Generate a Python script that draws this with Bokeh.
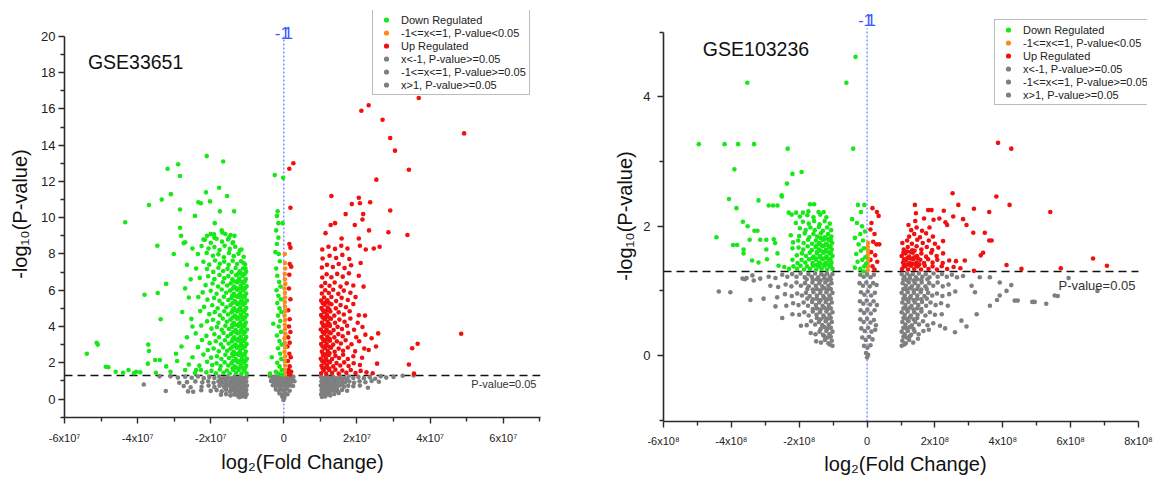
from bokeh.plotting import figure
from bokeh.models import Label, Legend, LegendItem, FixedTicker
from bokeh.layouts import row
from bokeh.embed import file_html
from bokeh.resources import INLINE

FONT = "Liberation Sans"
GREEN = "#17e817"
ORANGE = "#ff8a1e"
RED = "#f01010"
GRAY = "#7f7f7f"
BLUE = "#3a5cff"

LEGEND_LABELS = ["Down Regulated", "-1<=x<=1, P-value<0.05", "Up Regulated",
                 "x<-1, P-value>=0.05", "-1<=x<=1, P-value>=0.05", "x>1, P-value>=0.05"]

# ================= GSE33651 : (log2FC in units of 1e6, -log10 P) =================
A_X_UNIT = 1e6
a_down = [
    (-21.1,13.4),(-16.6,13.1),(-28.9,12.95),(-31.8,12.7),(-28.4,12.3),(-30.9,11.3),(-33.4,11.0),
    (-36.9,10.7),(-43.4,9.75),(-34.6,8.45),(-30.1,8.0),(-32.2,6.35),(-34.5,5.85),(-38.1,5.75),
    (-33.7,4.4),(-51.2,3.1),(-50.9,3.0),(-53.9,2.5),(-37.1,3.0),(-36.9,2.65),(-48.7,1.78),
    (-48.0,1.75),(-42.5,1.6),(-40.4,1.5),(-39.3,1.48),(-37.2,1.95),(-35.2,2.15),(-33.9,2.15),
    (-32.2,1.8),(-29.5,2.5),(-29.2,2.1),(-17.7,11.65),(-15.5,11.2),(-21.3,11.4),(-23.4,10.85),
    (-22.7,10.8),(-20.2,10.9),(-17.5,10.35),(-13.6,10.35),(-28.4,10.45),(-24.3,10.1),(-28.4,9.45),
    (-28.1,9.0),(-27.0,8.65),(-27.4,8.6),(-18.9,9.7),
    (-44.0,1.45),(-46.0,1.5),(-41.0,1.42),(-35.0,1.45),(-31.0,1.5),(-27.0,1.6),(-26.0,1.9),
    (-25.0,2.3),(-24.0,1.6),(-28.0,2.9),(-26.5,3.4),(-25.0,4.0),(-27.8,4.8),(-26.0,5.6),
    (-27.0,6.1),(-25.5,6.6),(-24.0,7.2),(-26.5,7.4),(-23.5,8.0),(-25.0,8.3),(-22.0,8.8),
    (-21.0,9.0),(-20.0,9.1),(-19.0,8.9),(-17.0,9.3),(-15.0,8.9),(-16.0,9.1),(-14.0,8.6),
    (-12.0,8.2),(-13.5,9.0),(-11.0,7.5),(-10.5,7.2),
    (-10.2,1.42),(-10.9,1.58),(-11.6,1.40),(-12.4,1.60),(-13.1,1.44),(-13.9,1.62),(-14.8,1.41),
    (-15.6,1.57),(-16.5,1.45),(-17.5,1.63),(-18.6,1.42),(-19.8,1.55),(-21.2,1.47),(-22.7,1.60),(-24.3,1.43),
    (-10.3,1.83),(-11.0,2.00),(-11.8,1.86),(-12.6,2.03),(-13.5,1.80),(-14.3,1.98),(-15.2,1.85),
    (-16.2,2.02),(-17.3,1.82),(-18.4,1.97),(-19.6,1.88),(-21.0,2.05),(-23.1,1.84),
    (-10.1,2.22),(-10.8,2.40),(-11.5,2.25),(-12.3,2.43),(-13.2,2.20),(-14.0,2.38),(-15.0,2.26),
    (-16.0,2.44),(-17.1,2.21),(-18.3,2.36),(-19.9,2.28),(-22.0,2.45),
    (-10.4,2.62),(-11.2,2.80),(-12.0,2.65),(-12.9,2.83),(-13.7,2.60),(-14.6,2.78),(-15.5,2.66),
    (-16.6,2.84),(-17.8,2.63),(-19.2,2.79),(-20.8,2.70),(-23.5,2.86),
    (-10.2,3.03),(-10.9,3.20),(-11.7,3.05),(-12.5,3.22),(-13.3,3.00),(-14.2,3.18),(-15.1,3.06),
    (-16.1,3.24),(-17.2,3.02),(-18.6,3.19),(-20.3,3.08),(-22.4,3.25),
    (-10.3,3.42),(-11.0,3.60),(-11.8,3.45),(-12.7,3.63),(-13.6,3.40),(-14.5,3.58),(-15.4,3.46),
    (-16.5,3.64),(-17.7,3.41),(-19.0,3.57),(-21.2,3.48),(-24.1,3.62),
    (-10.1,3.83),(-10.9,4.00),(-11.6,3.85),(-12.4,4.03),(-13.2,3.80),(-14.1,3.98),(-15.0,3.86),
    (-16.0,4.04),(-17.0,3.82),(-18.3,3.97),(-19.8,3.88),(-22.6,4.05),
    (-10.4,4.22),(-11.1,4.40),(-11.9,4.25),(-12.8,4.43),(-13.7,4.20),(-14.6,4.38),(-15.6,4.26),
    (-16.7,4.44),(-17.9,4.21),(-19.4,4.37),(-21.0,4.28),(-25.3,4.42),
    (-10.2,4.63),(-11.0,4.80),(-11.8,4.65),(-12.6,4.83),(-13.4,4.60),(-14.3,4.78),(-15.3,4.66),
    (-16.3,4.84),(-17.5,4.62),(-18.9,4.79),(-20.4,4.68),(-22.9,4.85),
    (-10.3,5.02),(-11.1,5.20),(-11.9,5.05),(-12.7,5.23),(-13.6,5.00),(-14.6,5.18),(-15.7,5.06),
    (-16.8,5.24),(-18.1,5.01),(-19.6,5.17),(-21.8,5.08),
    (-10.1,5.43),(-10.8,5.60),(-11.6,5.45),(-12.5,5.63),(-13.4,5.40),(-14.3,5.58),(-15.2,5.46),
    (-16.4,5.64),(-17.6,5.42),(-19.1,5.57),(-20.9,5.48),(-23.4,5.62),
    (-10.3,5.82),(-11.1,6.00),(-11.9,5.85),(-12.8,6.03),(-13.7,5.80),(-14.7,5.98),(-15.8,5.86),
    (-17.0,6.04),(-18.4,5.81),(-20.0,5.97),(-22.2,5.88),
    (-10.2,6.22),(-11.0,6.40),(-11.8,6.25),(-12.7,6.43),(-13.6,6.20),(-14.5,6.38),(-15.5,6.26),
    (-16.7,6.44),(-18.0,6.21),(-19.5,6.37),(-21.4,6.28),
    (-10.4,6.62),(-11.3,6.80),(-12.2,6.65),(-13.1,6.83),(-14.1,6.60),(-15.2,6.78),(-16.3,6.66),
    (-17.6,6.84),(-19.0,6.61),(-20.7,6.77),(-23.0,6.68),
    (-10.3,7.02),(-11.2,7.20),(-12.1,7.05),(-13.2,7.23),(-14.3,7.00),(-15.4,7.18),(-16.6,7.06),
    (-17.9,7.24),(-19.3,7.01),(-21.0,7.17),
    (-10.6,7.42),(-11.7,7.60),(-12.8,7.45),(-14.0,7.63),(-15.1,7.40),(-16.3,7.58),(-17.5,7.46),
    (-18.8,7.64),(-20.4,7.41),(-22.0,7.57),
    (-11.0,7.85),(-12.4,8.02),(-13.7,7.88),(-15.0,8.05),(-16.4,7.82),(-17.9,7.98),(-19.4,7.90),(-21.1,8.06),
    (-11.6,8.25),(-13.3,8.40),(-14.8,8.28),(-16.2,8.45),(-17.6,8.22),(-19.0,8.38),(-20.6,8.30),(-22.5,8.44),
    (-13.9,8.65),(-15.3,8.80),(-16.9,8.68),(-18.4,8.84),(-20.0,8.62),(-21.6,8.78),
    (-14.6,9.05),(-16.8,9.18),(-19.1,9.08),
    (-10.6,1.70),(-11.4,1.74),(-12.2,1.68),(-13.0,1.73),(-14.0,1.69),
    (-10.5,2.10),(-11.3,2.13),(-12.1,2.08),(-12.9,2.12),(-13.9,2.09),
    (-10.7,2.50),(-11.5,2.46),(-12.3,2.52),(-13.2,2.48),(-14.1,2.51),
    (-10.6,2.90),(-11.4,2.93),(-12.2,2.88),(-13.0,2.92),(-14.0,2.89),
    (-10.7,3.30),(-11.5,3.27),(-12.3,3.32),(-13.1,3.28),(-14.0,3.31),
    (-10.6,3.70),(-11.4,3.73),(-12.2,3.68),(-13.0,3.72),(-13.9,3.69),
    (-10.7,4.10),(-11.5,4.07),(-12.3,4.12),(-13.2,4.08),(-14.1,4.11),
    (-10.6,4.50),(-11.4,4.53),(-12.2,4.48),(-13.0,4.52),(-14.0,4.49),
    (-10.7,4.90),(-11.5,4.87),(-12.3,4.92),(-13.1,4.88),(-14.0,4.91),
    (-10.6,5.30),(-11.4,5.33),(-12.2,5.28),(-13.0,5.32),(-14.0,5.29),
    (-10.7,5.70),(-11.5,5.67),(-12.3,5.72),(-13.2,5.68),(-14.1,5.71),
    (-10.6,6.10),(-11.4,6.13),(-12.2,6.08),(-13.1,6.12),(-14.0,6.09),
    (-10.7,6.50),(-11.6,6.47),(-12.5,6.52),(-13.4,6.48),
    (-10.7,6.90),(-11.7,6.93),(-12.6,6.88),
    (-2.5,12.35),(-0.2,12.2),(-1.7,10.35),(-1.9,10.1),(-1.5,9.7),(-0.35,9.7),(-2.1,9.3),(-1.5,8.9),
    (-1.9,8.55),(-2.3,8.1),(-1.4,8.0),(-1.1,7.6),(-2.1,7.2),(-1.8,6.8),(-1.3,6.45),(-0.9,6.2),
    (-2.0,6.0),(-1.5,5.7),(-0.8,5.5),(-1.8,5.3),(-1.2,5.0),(-0.7,4.8),(-1.6,4.6),(-2.9,4.15),
    (-1.0,4.3),(-1.4,4.0),(-0.8,3.7),(-1.9,3.5),(-1.2,3.2),(-0.6,3.0),(-1.6,2.8),(-1.0,2.5),
    (-3.3,2.3),(-0.7,2.2),(-1.8,2.0),(-1.2,1.8),(-0.6,1.6),(-2.2,1.5),(-3.8,1.4),(-1.5,1.4),(-0.5,1.35),
]
a_mid_sig = [
    (0.3,1.35),(0.2,1.6),(0.4,1.85),(0.25,2.1),(0.35,2.35),(0.2,2.6),(0.4,2.85),(0.3,3.1),(0.2,3.35),
    (0.4,3.6),(0.3,3.85),(0.25,4.1),(0.35,4.35),(0.2,4.6),(0.4,4.85),(0.3,5.1),(0.25,5.35),(0.35,5.6),
    (0.3,5.85),(0.2,6.1),(0.4,6.35),(0.3,6.6),(0.25,6.9),(0.35,7.2),(0.3,7.5),(0.25,8.0),
]
a_up = [
    (36.9,16.6),(23.2,16.2),(21.2,15.9),(27.0,15.4),(49.3,14.65),(29.1,14.4),(30.4,13.7),(34.2,12.65),
    (25.3,12.1),(13.0,11.2),(20.5,11.1),(16.9,10.2),(18.6,10.75),(20.8,10.8),(23.6,10.85),(29.1,10.4),
    (21.7,10.2),(21.5,9.9),(14.0,9.7),(12.8,9.6),(19.4,9.6),(23.3,9.3),(28.6,9.2),(11.4,9.15),
    (33.8,9.05),(15.8,8.85),(20.5,8.85),(26.2,8.4),(24.6,8.3),(22.4,8.25),(20.8,8.45),(48.5,3.6),
    (36.6,3.05),(35.1,2.8),(34.2,1.9),(35.6,1.4),
    (2.6,13.0),(1.5,12.7),(1.8,10.55),(1.5,8.55),(1.8,8.35),(1.6,7.45),(2.0,7.3),(1.5,6.85),(1.4,6.1),
    (1.8,5.5),(1.2,4.9),(1.6,4.4),(1.4,4.0),(1.8,3.7),(1.2,3.4),(1.6,3.1),(1.0,2.9),(1.5,2.5),
    (1.9,2.3),(1.1,2.1),(1.6,1.8),(1.3,1.6),(2.0,1.5),(1.0,1.4),(1.7,1.35),
    (10.2,1.42),(10.9,1.58),(11.6,1.40),(12.4,1.60),(13.2,1.44),(14.1,1.62),(15.0,1.41),(16.0,1.57),
    (17.1,1.45),(18.3,1.60),(19.6,1.43),(21.0,1.55),(22.6,1.47),(24.3,1.42),
    (10.3,1.83),(11.0,2.00),(11.8,1.86),(12.6,2.03),(13.5,1.80),(14.4,1.98),(15.4,1.85),(16.5,2.02),
    (17.7,1.82),(19.1,1.97),(20.8,1.88),(25.5,1.95),
    (10.1,2.22),(10.8,2.40),(11.5,2.25),(12.3,2.43),(13.2,2.20),(14.1,2.38),(15.1,2.26),(16.2,2.44),
    (17.5,2.21),(19.0,2.36),(21.4,2.28),(23.2,2.70),
    (10.4,2.62),(11.2,2.80),(12.0,2.65),(12.9,2.83),(13.9,2.60),(15.0,2.78),(16.2,2.66),(17.5,2.84),
    (19.5,2.63),(22.0,2.79),(25.2,2.90),
    (10.2,3.03),(10.9,3.20),(11.7,3.05),(12.6,3.22),(13.5,3.00),(14.5,3.18),(15.6,3.06),(16.9,3.24),
    (18.5,3.02),(20.6,3.19),(24.0,3.35),
    (10.3,3.42),(11.0,3.60),(11.9,3.45),(12.8,3.63),(13.8,3.40),(14.9,3.58),(16.1,3.46),(17.6,3.64),
    (19.8,3.41),(22.3,3.55),(25.8,3.62),
    (10.1,3.83),(10.9,4.00),(11.7,3.85),(12.6,4.03),(13.6,3.80),(14.7,3.98),(15.9,3.86),(17.3,4.04),
    (19.2,3.82),(21.5,3.97),
    (10.4,4.22),(11.2,4.40),(12.0,4.25),(12.9,4.43),(14.0,4.20),(15.2,4.38),(16.6,4.26),(18.2,4.44),
    (20.2,4.21),(22.2,4.60),
    (10.2,4.63),(11.0,4.80),(11.8,4.65),(12.7,4.83),(13.8,4.60),(15.0,4.78),(16.4,4.66),(18.0,4.84),(20.5,4.62),
    (10.3,5.02),(11.1,5.20),(12.0,5.05),(13.0,5.23),(14.2,5.00),(15.5,5.18),(17.0,5.06),(19.0,5.24),
    (10.2,5.43),(11.0,5.60),(11.9,5.45),(13.0,5.63),(14.3,5.40),(15.8,5.58),(17.5,5.46),(19.6,5.62),
    (10.4,5.82),(11.3,6.00),(12.3,5.85),(13.5,6.03),(14.9,5.80),(16.4,5.98),(18.2,5.86),(21.8,6.2),
    (10.3,6.22),(11.3,6.40),(12.5,6.25),(13.9,6.43),(15.5,6.20),(17.2,6.38),(19.0,6.26),
    (10.5,6.70),(11.7,6.88),(13.0,6.72),(14.6,6.90),(16.1,6.75),(17.8,6.93),(20.5,6.80),
    (10.4,7.25),(11.8,7.40),(13.4,7.28),(15.0,7.45),(16.6,7.22),(18.4,7.38),(21.0,7.50),
    (10.6,7.75),(12.5,7.90),(14.3,7.78),(16.0,7.95),(17.9,7.72),
    (10.5,8.25),(12.2,8.40),(14.0,8.28),(15.7,8.45),(17.4,8.30),
    (10.6,1.70),(11.5,1.73),(12.4,1.68),(10.5,2.10),(11.4,2.12),(12.3,2.07),
    (10.7,2.50),(11.6,2.47),(12.5,2.52),(10.6,2.90),(11.5,2.93),(12.4,2.88),
    (10.7,3.30),(11.6,3.27),(12.5,3.32),(10.6,3.70),(11.5,3.73),(12.4,3.68),
    (10.7,4.10),(11.6,4.07),(12.5,4.12),(10.6,4.50),(11.5,4.53),(12.4,4.48),
    (10.7,4.90),(11.6,4.87),(12.5,4.92),(10.6,5.30),(11.5,5.33),(12.4,5.28),
]
a_gray_left = [
    (-10.2,1.22),(-11.0,1.15),(-11.8,1.24),(-12.6,1.16),(-13.5,1.23),(-14.4,1.14),(-15.4,1.22),
    (-16.5,1.15),(-17.7,1.24),(-19.0,1.16),(-20.4,1.22),(-21.9,1.15),(-23.5,1.24),(-25.2,1.17),
    (-27.0,1.23),(-29.0,1.18),(-31.0,1.25),(-34.0,1.25),
    (-10.3,0.98),(-11.1,0.90),(-11.9,0.99),(-12.8,0.91),(-13.7,0.98),(-14.6,0.90),(-15.6,0.99),
    (-16.7,0.91),(-17.9,0.97),(-19.2,0.90),(-20.7,0.98),(-22.3,0.92),(-24.2,0.97),(-26.5,0.93),(-28.6,0.90),
    (-10.1,0.74),(-10.9,0.66),(-11.7,0.75),(-12.5,0.67),(-13.4,0.74),(-14.3,0.66),(-15.3,0.75),
    (-16.4,0.67),(-17.6,0.73),(-19.0,0.66),(-20.6,0.74),(-22.5,0.68),(-25.5,0.65),
    (-10.3,0.50),(-11.1,0.42),(-11.9,0.51),(-12.8,0.43),(-13.7,0.50),(-14.7,0.42),(-15.8,0.51),
    (-17.0,0.43),(-18.4,0.49),(-20.0,0.45),(-22.6,0.48),
    (-10.2,0.26),(-11.0,0.18),(-11.8,0.27),(-12.7,0.19),(-13.6,0.25),(-14.6,0.20),(-15.8,0.27),(-17.2,0.24),
    (-10.5,0.12),(-11.5,0.14),(-12.2,0.10),
    (-10.6,1.08),(-11.5,1.05),(-12.4,1.10),(-13.4,1.06),(-14.5,1.09),(-15.9,1.05),(-17.3,1.08),
    (-10.6,0.84),(-11.5,0.81),(-12.4,0.86),(-13.4,0.82),(-14.5,0.85),(-15.9,0.81),(-17.3,0.84),
    (-10.6,0.60),(-11.5,0.57),(-12.4,0.62),(-13.4,0.58),(-14.5,0.61),(-15.9,0.59),
    (-10.6,0.36),(-11.5,0.33),(-12.4,0.38),(-13.4,0.35),
    (-38.3,0.80),(-32.3,0.44),(-27.4,0.72),(-26.2,0.42),(-24.8,0.40),
]
a_gray_mid = [
    (-3.8,1.25),(-3.0,1.20),(-2.2,1.22),(-1.4,1.18),(-0.6,1.24),(0.2,1.20),(1.0,1.23),(1.8,1.17),(2.6,1.22),
    (-3.5,1.00),(-2.7,0.95),(-1.9,1.02),(-1.1,0.96),(-0.3,1.01),(0.5,0.94),(1.3,1.00),(2.1,0.95),(2.9,0.98),
    (-3.0,0.76),(-2.2,0.70),(-1.4,0.78),(-0.6,0.72),(0.2,0.77),(1.0,0.70),(1.8,0.75),(2.5,0.72),
    (-2.2,0.52),(-1.4,0.46),(-0.7,0.53),(0.0,0.47),(0.8,0.52),(1.6,0.46),
    (-1.2,0.30),(-0.5,0.25),(0.3,0.31),(1.0,0.26),
    (-0.4,0.12),(0.1,0.05),(-0.1,-0.05),(0.2,0.18),
    (-2.6,1.10),(-1.0,1.09),(0.6,1.11),(2.2,1.08),(-1.8,0.87),(-0.2,0.88),(1.4,0.86),(-1.0,0.63),(0.6,0.62),
]
a_gray_right = [
    (10.2,1.22),(11.0,1.15),(11.8,1.24),(12.6,1.16),(13.5,1.23),(14.4,1.14),(15.4,1.22),(16.5,1.15),
    (17.7,1.24),(19.0,1.16),(20.4,1.22),(21.9,1.15),(23.5,1.20),(25.0,1.12),(26.5,1.25),(28.0,1.18),
    (30.0,1.22),(32.5,1.28),(35.5,1.30),
    (10.3,0.98),(11.1,0.90),(11.9,0.99),(12.8,0.91),(13.7,0.98),(14.6,0.90),(15.6,0.99),(16.7,0.91),
    (17.9,0.97),(19.2,0.90),(20.7,0.98),(22.3,0.92),(24.0,1.00),(26.0,0.95),
    (10.1,0.74),(10.9,0.66),(11.7,0.75),(12.5,0.67),(13.4,0.74),(14.3,0.66),(15.3,0.75),(16.4,0.67),
    (17.6,0.73),(19.0,0.70),(20.8,0.74),(23.0,0.62),
    (10.3,0.50),(11.1,0.42),(11.9,0.51),(12.8,0.43),(13.7,0.50),(14.7,0.44),(15.9,0.50),(17.3,0.46),
    (10.2,0.26),(11.0,0.18),(11.8,0.27),(12.7,0.20),(13.8,0.28),(15.0,0.33),
    (10.4,0.12),(11.3,0.14),
    (10.6,1.08),(11.5,1.05),(12.4,1.10),(13.4,1.06),(14.5,1.09),(15.9,1.05),(17.3,1.08),
    (10.6,0.84),(11.5,0.81),(12.4,0.86),(13.4,0.82),(14.5,0.85),(15.9,0.81),
    (10.6,0.60),(11.5,0.57),(12.4,0.62),(13.4,0.58),(14.5,0.61),
    (10.6,0.36),(11.5,0.33),(12.4,0.38),
]
A_X_TICKS = [-6e7, -4e7, -2e7, 0, 2e7, 4e7, 6e7]
A_X_TICK_LABELS = ["-6x10⁷", "-4x10⁷", "-2x10⁷", "0", "2x10⁷", "4x10⁷", "6x10⁷"]
A_X_MINOR = [-5e7, -3e7, -1e7, 1e7, 3e7, 5e7, 7e7]
A_Y_TICKS = [0, 2, 4, 6, 8, 10, 12, 14, 16, 18, 20]
A_Y_MINOR = [-1, 1, 3, 5, 7, 9, 11, 13, 15, 17, 19]

# ================= GSE103236 : (log2FC in units of 1e7, -log10 P) =================
B_X_UNIT = 1e7
b_down = [
    (-3.4,4.62),(-35.3,4.22),(-6.1,4.22),(-49.6,3.27),(-42.0,3.27),(-38.0,3.27),(-33.3,3.27),
    (-23.4,3.2),(-4.1,3.2),(-39.1,2.88),(-19.3,2.84),(-22.0,2.81),(-23.6,2.66),(-25.2,2.48),
    (-25.1,2.46),(-40.7,2.42),(-32.0,2.40),(-38.5,2.28),(-44.4,1.83),(-36.6,2.07),(-35.2,2.0),
    (-33.2,1.93),(-32.3,1.93),(-34.6,1.79),(-31.5,1.79),(-29.7,1.79),(-27.5,1.80),(-39.5,1.71),
    (-38.3,1.71),(-36.4,1.64),(-36.4,1.58),(-33.9,1.47),(-32.0,1.44),(-29.7,1.64),(-29.5,1.49),
    (-26.4,1.58),(-26.1,1.39),(-27.1,1.74),(-29.0,2.32),(-27.7,2.32),(-26.4,2.32),(-20.9,2.21),
    (-18.9,2.21),(-23.1,2.21),(-17.3,2.23),(-15.6,2.34),(-14.3,2.22),(-12.8,2.22),(-16.8,2.34),
    (-10.2,1.34),(-11.0,1.38),(-11.8,1.33),(-12.6,1.39),(-13.4,1.34),(-14.2,1.38),(-15.0,1.33),
    (-15.9,1.39),(-16.8,1.34),(-17.7,1.38),(-18.6,1.33),(-19.6,1.39),(-20.6,1.34),(-21.7,1.38),
    (-23.0,1.34),(-24.4,1.37),
    (-10.5,1.44),(-11.4,1.48),(-12.3,1.43),(-13.2,1.49),(-14.1,1.44),(-15.1,1.48),(-16.1,1.43),
    (-17.1,1.49),(-18.2,1.44),(-19.3,1.48),(-20.5,1.43),(-22.0,1.48),
    (-10.2,1.54),(-11.1,1.58),(-12.0,1.53),(-12.9,1.59),(-13.8,1.54),(-14.8,1.58),(-15.8,1.53),
    (-16.9,1.59),(-18.0,1.54),(-19.2,1.58),(-20.7,1.55),
    (-10.4,1.64),(-11.3,1.68),(-12.2,1.63),(-13.2,1.69),(-14.2,1.64),(-15.2,1.68),(-16.3,1.63),
    (-17.5,1.69),(-18.8,1.64),(-20.2,1.67),(-22.0,1.66),
    (-10.3,1.74),(-11.2,1.78),(-12.1,1.73),(-13.1,1.79),(-14.1,1.74),(-15.1,1.78),(-16.2,1.73),
    (-17.4,1.79),(-18.7,1.74),(-20.3,1.78),(-21.8,1.75),
    (-10.5,1.84),(-11.5,1.88),(-12.5,1.83),(-13.6,1.89),(-14.7,1.84),(-15.8,1.88),(-17.0,1.83),
    (-18.4,1.89),(-20.0,1.85),(-22.5,1.86),
    (-10.6,1.94),(-11.8,1.98),(-13.0,1.93),(-14.2,1.99),(-15.4,1.94),(-16.7,1.98),(-18.1,1.94),(-19.8,1.97),
    (-11.0,2.04),(-12.5,2.08),(-14.0,2.03),(-15.6,2.08),(-17.2,2.04),(-18.9,2.07),(-21.0,2.05),
    (-12.0,2.14),(-13.8,2.18),(-15.8,2.14),(-17.6,2.17),(-19.8,2.15),(-22.2,2.18),
    (-10.7,1.39),(-11.6,1.41),(-12.6,1.40),(-13.7,1.42),(-14.8,1.40),(-16.0,1.41),
    (-10.8,1.49),(-11.7,1.51),(-12.7,1.50),(-13.8,1.52),(-14.9,1.50),(-16.1,1.51),
    (-10.7,1.59),(-11.6,1.61),(-12.6,1.60),(-13.7,1.62),(-14.8,1.60),
    (-10.8,1.69),(-11.7,1.71),(-12.7,1.70),(-13.8,1.72),(-14.9,1.70),
    (-10.7,1.79),(-11.6,1.81),(-12.6,1.80),(-13.7,1.82),
    (-3.6,1.36),(-2.0,1.34),(-0.8,1.38),(-2.8,1.45),(-1.4,1.48),(-0.5,1.52),(-3.2,1.57),(-1.8,1.62),
    (-0.9,1.66),(-2.5,1.72),(-1.2,1.78),(-3.6,1.82),(-2.0,1.88),(-0.6,1.92),(-1.5,2.0),(-4.4,2.11),
    (-3.0,2.05),(-2.7,2.33),(-0.8,2.33),(-1.8,2.22),(-0.3,1.42),(-1.0,1.30),
]
b_mid_sig = [
    (0.2,1.32),(0.3,1.38),(0.2,1.44),(0.3,1.50),(0.2,1.56),(0.3,1.62),(0.2,1.68),(0.3,1.74),
]
b_up = [
    (38.6,3.29),(42.5,3.2),(25.2,2.51),(38.1,2.46),(42.0,2.33),(54.0,2.22),(31.5,2.27),(36.0,2.22),
    (14.1,2.33),(18.0,2.25),(19.0,2.25),(22.6,2.24),(26.9,2.33),(14.4,2.2),(25.4,2.15),(28.3,2.11),
    (29.3,2.02),(23.1,2.06),(23.6,2.02),(12.2,2.02),(31.3,1.9),(34.7,1.9),(36.0,1.78),(36.7,1.78),
    (34.2,1.59),(33.5,1.55),(41.1,1.4),(45.5,1.34),(57.1,1.35),(66.6,1.5),(70.7,1.39),(31.5,1.31),
    (1.6,2.28),(2.9,2.22),(3.4,2.16),(1.3,2.05),(1.0,1.95),(2.2,1.88),(1.8,1.76),(2.8,1.72),
    (3.6,1.72),(1.2,1.6),(2.4,1.55),(1.0,1.48),(3.0,1.45),(1.6,1.38),(2.2,1.33),
    (10.3,1.34),(11.2,1.38),(12.1,1.33),(13.0,1.39),(13.9,1.34),(14.9,1.38),(15.9,1.33),(17.0,1.39),
    (18.1,1.34),(19.3,1.38),(20.6,1.33),(22.0,1.38),(23.6,1.34),(25.5,1.37),(27.5,1.35),
    (10.6,1.44),(11.6,1.48),(12.6,1.43),(13.6,1.49),(14.6,1.44),(15.7,1.48),(16.8,1.43),(18.0,1.49),
    (19.3,1.44),(20.7,1.48),(22.3,1.43),(24.2,1.47),(26.2,1.46),(28.8,1.47),
    (10.2,1.54),(11.3,1.58),(12.4,1.53),(13.5,1.59),(14.7,1.54),(16.0,1.58),(17.4,1.53),(18.9,1.59),
    (20.5,1.54),(22.4,1.58),
    (10.8,1.64),(12.0,1.68),(13.3,1.63),(14.6,1.69),(16.0,1.64),(17.6,1.68),(19.2,1.63),(21.0,1.67),
    (10.4,1.74),(11.8,1.78),(13.2,1.73),(14.8,1.79),(16.4,1.74),(18.2,1.78),(20.0,1.73),(22.4,1.77),
    (12.4,1.84),(13.9,1.88),(15.6,1.83),(17.4,1.89),(19.4,1.84),
    (13.0,1.94),(14.6,1.98),(16.2,1.93),(18.4,1.98),
    (14.2,2.08),(16.8,2.12),(19.6,2.10),(21.3,2.12),
    (10.8,1.39),(11.7,1.41),(12.6,1.40),(13.5,1.42),(14.4,1.40),(15.4,1.41),
    (10.9,1.49),(11.9,1.51),(12.9,1.50),(13.9,1.52),(15.0,1.50),
    (10.7,1.59),(11.8,1.61),(12.9,1.60),(14.0,1.62),
]
b_gray_left = [
    (-10.2,1.26),(-11.0,1.22),(-11.8,1.27),(-12.6,1.23),(-13.5,1.26),(-14.4,1.21),(-15.3,1.27),
    (-16.3,1.22),(-17.3,1.26),(-18.4,1.21),(-19.6,1.27),(-20.8,1.22),(-22.1,1.26),(-23.5,1.22),
    (-25.0,1.25),(-27.0,1.20),(-29.0,1.22),(-31.5,1.19),(-33.8,1.24),(-36.0,1.18),
    (-10.5,1.12),(-11.4,1.08),(-12.3,1.13),(-13.2,1.07),(-14.1,1.12),(-15.1,1.08),(-16.1,1.13),
    (-17.2,1.07),(-18.3,1.12),(-19.5,1.08),(-20.8,1.13),(-22.3,1.07),(-24.0,1.10),(-26.2,1.06),(-28.5,1.08),
    (-10.2,0.97),(-11.1,0.93),(-12.0,0.98),(-12.9,0.92),(-13.8,0.97),(-14.8,0.93),(-15.8,0.98),
    (-16.9,0.92),(-18.0,0.97),(-19.2,0.93),(-20.6,0.96),(-22.2,0.92),(-24.2,0.95),(-26.5,0.90),(-30.5,0.88),
    (-10.4,0.82),(-11.3,0.78),(-12.2,0.83),(-13.1,0.77),(-14.1,0.82),(-15.1,0.78),(-16.2,0.83),
    (-17.4,0.77),(-18.7,0.82),(-20.2,0.78),(-21.8,0.81),(-23.8,0.77),(-27.0,0.76),
    (-10.2,0.67),(-11.1,0.63),(-12.0,0.68),(-12.9,0.62),(-13.9,0.67),(-14.9,0.63),(-16.0,0.68),
    (-17.2,0.62),(-18.5,0.67),(-20.0,0.63),(-22.0,0.64),(-25.0,0.58),
    (-10.4,0.52),(-11.3,0.48),(-12.2,0.53),(-13.2,0.47),(-14.2,0.52),(-15.3,0.48),(-16.5,0.53),
    (-17.8,0.47),(-19.5,0.46),
    (-10.2,0.37),(-11.1,0.33),(-12.0,0.38),(-13.0,0.32),(-14.0,0.37),(-15.2,0.33),(-16.6,0.35),
    (-10.4,0.23),(-11.4,0.19),(-12.4,0.24),(-13.6,0.20),(-15.0,0.22),(-10.2,0.15),(-11.0,0.17),
    (-10.7,1.18),(-11.6,1.17),(-12.6,1.19),(-13.7,1.16),(-14.8,1.18),(-16.0,1.17),(-17.8,1.18),
    (-10.7,1.03),(-11.6,1.02),(-12.6,1.04),(-13.7,1.01),(-14.8,1.03),(-16.0,1.02),(-17.6,1.03),
    (-10.7,0.88),(-11.6,0.87),(-12.6,0.89),(-13.7,0.86),(-14.8,0.88),(-16.0,0.87),(-17.6,0.88),
    (-10.7,0.73),(-11.6,0.72),(-12.6,0.74),(-13.7,0.71),(-14.8,0.73),(-16.0,0.72),
    (-10.7,0.58),(-11.6,0.57),(-12.6,0.59),(-13.7,0.56),(-14.8,0.58),
    (-10.7,0.43),(-11.6,0.42),(-12.6,0.44),(-13.7,0.41),
    (-10.7,0.29),(-11.6,0.28),(-12.6,0.30),
    (-43.7,0.99),(-40.3,0.98),(-34.4,0.86),(-36.7,1.19),(-35.5,1.20),(-33.4,1.16),
]
b_gray_mid = [
    (-2.0,1.25),(-1.0,1.22),(0.0,1.26),(1.0,1.21),(2.0,1.25),
    (-2.2,1.12),(-1.2,1.08),(-0.2,1.13),(0.8,1.07),(1.8,1.12),(2.8,1.09),
    (-1.8,0.98),(-0.8,0.94),(0.2,0.99),(1.2,0.93),(2.3,0.97),
    (-2.1,0.84),(-1.1,0.80),(-0.1,0.85),(0.9,0.79),(1.9,0.84),(2.9,0.78),
    (-1.9,0.70),(-0.9,0.66),(0.1,0.71),(1.1,0.65),(2.2,0.70),
    (-2.0,0.56),(-1.0,0.52),(0.0,0.57),(1.0,0.51),(2.0,0.55),(2.6,0.47),
    (-1.7,0.42),(-0.7,0.38),(0.3,0.43),(1.3,0.37),(2.4,0.40),
    (-1.4,0.28),(-0.4,0.24),(0.6,0.29),(1.6,0.25),
    (-0.9,0.15),(0.1,0.12),(1.0,0.16),(-0.3,0.04),(0.3,0.01),(0.0,-0.03),
]
b_gray_right = [
    (10.2,1.26),(11.0,1.22),(11.8,1.27),(12.6,1.23),(13.5,1.26),(14.4,1.21),(15.3,1.27),(16.3,1.22),
    (17.3,1.26),(18.4,1.21),(19.6,1.27),(20.8,1.22),(22.1,1.26),(23.5,1.22),(25.0,1.25),(26.5,1.21),
    (28.3,1.23),(33.2,1.21),(36.2,1.21),
    (10.5,1.12),(11.4,1.08),(12.3,1.13),(13.2,1.07),(14.1,1.12),(15.1,1.08),(16.1,1.13),(17.2,1.07),
    (18.3,1.12),(19.5,1.08),(20.8,1.13),(22.3,1.07),(24.0,1.10),(30.8,1.08),(39.1,1.13),(42.5,1.09),
    (10.2,0.97),(11.1,0.93),(12.0,0.98),(12.9,0.92),(13.8,0.97),(14.8,0.93),(15.8,0.98),(16.9,0.92),
    (18.0,0.97),(19.2,0.93),(20.6,0.96),(22.2,0.92),(24.2,0.95),(26.0,0.99),(31.8,0.98),(39.1,0.93),
    (41.1,1.00),(55.3,0.93),(56.2,0.92),(67.9,1.00),(59.4,1.20),
    (10.4,0.82),(11.3,0.78),(12.2,0.83),(13.1,0.77),(14.1,0.82),(15.1,0.78),(16.2,0.83),(17.4,0.77),
    (18.7,0.82),(20.2,0.78),(21.8,0.81),(23.8,0.77),(36.2,0.77),(38.3,0.86),(43.5,0.85),(48.7,0.83),
    (52.8,0.80),(49.4,0.83),(44.4,0.85),
    (10.2,0.67),(11.1,0.63),(12.0,0.68),(12.9,0.62),(13.9,0.67),(14.9,0.63),(16.0,0.68),(17.2,0.62),
    (18.5,0.67),(20.0,0.63),(22.0,0.64),(32.3,0.64),
    (10.4,0.52),(11.3,0.48),(12.2,0.53),(13.2,0.47),(14.2,0.52),(15.3,0.48),(16.5,0.53),(17.8,0.47),
    (19.5,0.50),(21.5,0.46),(27.8,0.54),(29.3,0.45),
    (10.2,0.37),(11.1,0.33),(12.0,0.38),(13.0,0.32),(14.0,0.37),(15.2,0.33),(16.6,0.38),(18.2,0.40),
    (25.9,0.36),(23.0,0.42),
    (10.4,0.23),(11.4,0.19),(12.4,0.24),(13.6,0.20),(15.0,0.26),(10.2,0.15),(11.0,0.17),
    (10.7,1.18),(11.6,1.17),(12.6,1.19),(13.7,1.16),(14.8,1.18),(16.0,1.17),(17.8,1.18),
    (10.7,1.03),(11.6,1.02),(12.6,1.04),(13.7,1.01),(14.8,1.03),(16.0,1.02),(17.6,1.03),
    (10.7,0.88),(11.6,0.87),(12.6,0.89),(13.7,0.86),(14.8,0.88),(16.0,0.87),(17.6,0.88),
    (10.7,0.73),(11.6,0.72),(12.6,0.74),(13.7,0.71),(14.8,0.73),(16.0,0.72),
    (10.7,0.58),(11.6,0.57),(12.6,0.59),(13.7,0.56),(14.8,0.58),
    (10.7,0.43),(11.6,0.42),(12.6,0.44),(13.7,0.41),
    (10.7,0.29),(11.6,0.28),(12.6,0.30),
]
B_X_TICKS = [-6e8, -4e8, -2e8, 0, 2e8, 4e8, 6e8, 8e8]
B_X_TICK_LABELS = ["-6x10⁸", "-4x10⁸", "-2x10⁸", "0", "2x10⁸", "4x10⁸", "6x10⁸", "8x10⁸"]
B_X_MINOR = [-5e8, -3e8, -1e8, 1e8, 3e8, 5e8, 7e8]
B_Y_TICKS = [0, 2, 4]
B_Y_MINOR = [-1, 1, 3, 5]

P_THRESHOLD = 0.05
P_LINE = 1.30103  # -log10(0.05)


def panel(cfg):
    (xb0, xb1), (yb0, yb1) = cfg["x_bounds"], cfg["y_bounds"]
    p = figure(width=cfg["width"], height=cfg["height"],
               x_range=(xb0, cfg["x_end"]), y_range=(yb0, cfg["y_end"]),
               output_backend="svg", toolbar_location=None,
               min_border_left=cfg["borders"][0], min_border_right=cfg["borders"][1],
               min_border_top=cfg["borders"][2], min_border_bottom=cfg["borders"][3])
    p.outline_line_color = None
    p.xgrid.grid_line_color = None
    p.ygrid.grid_line_color = None
    p.background_fill_color = "white"

    for ax in (p.xaxis[0], p.yaxis[0]):
        ax.axis_line_color = "#2a2a2a"
        ax.axis_line_width = 1.6
        ax.major_tick_line_color = "#2a2a2a"
        ax.minor_tick_line_color = "#2a2a2a"
        ax.major_tick_line_width = 1.4
        ax.minor_tick_line_width = 1.4
        ax.major_tick_in = 0
        ax.minor_tick_in = 0
        ax.major_tick_out = 6
        ax.minor_tick_out = 4
        ax.major_label_text_font = FONT
        ax.major_label_text_color = "#222222"
        ax.axis_label_text_font = FONT
        ax.axis_label_text_font_style = "normal"
        ax.axis_label_text_font_size = "20px"
        ax.axis_label_text_color = "#111111"

    xa, ya = p.xaxis[0], p.yaxis[0]
    xa.bounds = (xb0, xb1)
    ya.bounds = (yb0, yb1)
    xa.ticker = FixedTicker(ticks=cfg["x_ticks"], minor_ticks=cfg["x_minor"])
    xa.major_label_overrides = {t: s for t, s in zip(cfg["x_ticks"], cfg["x_labels"])}
    xa.major_label_text_font_size = "11px"
    xa.major_label_standoff = cfg["xlab_standoff"]
    xa.axis_label = "log₂(Fold Change)"
    xa.axis_label_standoff = cfg["xtitle_standoff"]
    ya.ticker = FixedTicker(ticks=cfg["y_ticks"], minor_ticks=cfg["y_minor"])
    ya.major_label_text_font_size = "13px"
    ya.major_label_standoff = cfg["ylab_standoff"]
    ya.axis_label = "-log₁₀(P-value)"
    ya.axis_label_standoff = cfg["ytitle_standoff"]

    # threshold guides: fold-change line at 0 (blue dotted) and P = 0.05 (black dashed)
    p.segment(x0=[0], y0=[yb0], x1=[0], y1=[yb1 + cfg["blue_extra"]],
              line_color=BLUE, line_dash="2 2", line_width=1)
    p.segment(x0=[xb0], y0=[P_LINE], x1=[xb1], y1=[P_LINE],
              line_color="#111111", line_dash="8 5", line_width=1.5)

    unit = cfg["x_unit"]
    series = cfg["series"]
    renderers = {}
    for key in ["gray_left", "gray_mid", "gray_right", "up", "mid_sig", "down"]:
        pts, color = series[key]
        xs = [pt[0] * unit for pt in pts]
        ys = [pt[1] for pt in pts]
        renderers[key] = p.scatter(xs, ys, size=4.6, marker="circle", fill_color=color, line_color=None)
    items = [LegendItem(label=lab, renderers=[renderers[key]])
             for key, lab in zip(["down", "mid_sig", "up", "gray_left", "gray_mid", "gray_right"], LEGEND_LABELS)]

    p.add_layout(Label(x=0, y=yb1, text="-1", text_align="right", text_baseline="middle",
                       x_offset=6, y_offset=cfg["blue_dy"], text_color=BLUE, text_font=FONT,
                       text_font_size="17px"))
    p.add_layout(Label(x=0, y=yb1, text="1", text_align="right", text_baseline="middle",
                       x_offset=9, y_offset=cfg["blue_dy"], text_color=BLUE, text_font=FONT,
                       text_font_size="17px"))
    tx, ty = cfg["title_xy"]
    p.add_layout(Label(x=tx, y=ty, text=cfg["title"], text_align="left", text_baseline="middle",
                       text_color="#111111", text_font=FONT, text_font_size="19.5px"))
    px, py = cfg["pval_xy"]
    p.add_layout(Label(x=px, y=py, text="P-value=%g" % P_THRESHOLD, text_align="right", text_baseline="middle",
                       text_color="#333333", text_font=FONT, text_font_size=cfg["pval_size"]))

    legend = Legend(items=items, location=cfg["legend_loc"], orientation="vertical",
                    label_text_font=FONT, label_text_font_size="11px", label_text_color="#222222",
                    glyph_width=20, glyph_height=13, label_height=13, label_standoff=5,
                    spacing=0, padding=3, margin=0,
                    border_line_color="#7a7a7a", border_line_width=1.5,
                    background_fill_color="white", background_fill_alpha=1.0)
    p.add_layout(legend)
    return p


cfg_a = dict(
    width=584, height=476, x_bounds=(-6e7, 7.02e7), x_end=7.02e7, y_bounds=(-1.02, 20.0), y_end=21.43,
    borders=(64, 44, 9, 59),
    x_ticks=A_X_TICKS, x_labels=A_X_TICK_LABELS, x_minor=A_X_MINOR, y_ticks=A_Y_TICKS, y_minor=A_Y_MINOR,
    xlab_standoff=8, xtitle_standoff=4, ylab_standoff=3, ytitle_standoff=7, x_unit=A_X_UNIT,
    series={"down": (a_down, GREEN), "mid_sig": (a_mid_sig, ORANGE), "up": (a_up, RED),
            "gray_left": (a_gray_left, GRAY), "gray_mid": (a_gray_mid, GRAY), "gray_right": (a_gray_right, GRAY)},
    blue_dy=3, blue_extra=0.0, title="GSE33651", title_xy=(-5.36e7, 18.57), pval_xy=(6.91e7, 0.82),
    pval_size="11px", legend_loc=(308, 322),
)
cfg_b = dict(
    width=572, height=480, x_bounds=(-6e8, 8.0e8), x_end=8.265e8, y_bounds=(-1.02, 5.0), y_end=5.337,
    borders=(79, 9, 10, 57),
    x_ticks=B_X_TICKS, x_labels=B_X_TICK_LABELS, x_minor=B_X_MINOR, y_ticks=B_Y_TICKS, y_minor=B_Y_MINOR,
    xlab_standoff=7, xtitle_standoff=3, ylab_standoff=7, ytitle_standoff=4, x_unit=B_X_UNIT,
    series={"down": (b_down, GREEN), "mid_sig": (b_mid_sig, ORANGE), "up": (b_up, RED),
            "gray_left": (b_gray_left, GRAY), "gray_mid": (b_gray_mid, GRAY), "gray_right": (b_gray_right, GRAY)},
    blue_dy=12, blue_extra=0.06, title="GSE103236", title_xy=(-4.84e8, 4.74), pval_xy=(7.91e8, 1.09),
    pval_size="13px", legend_loc=(331, 316),
)

layout = row(panel(cfg_a), panel(cfg_b))
open("out.html", "w").write(file_html(layout, INLINE))
